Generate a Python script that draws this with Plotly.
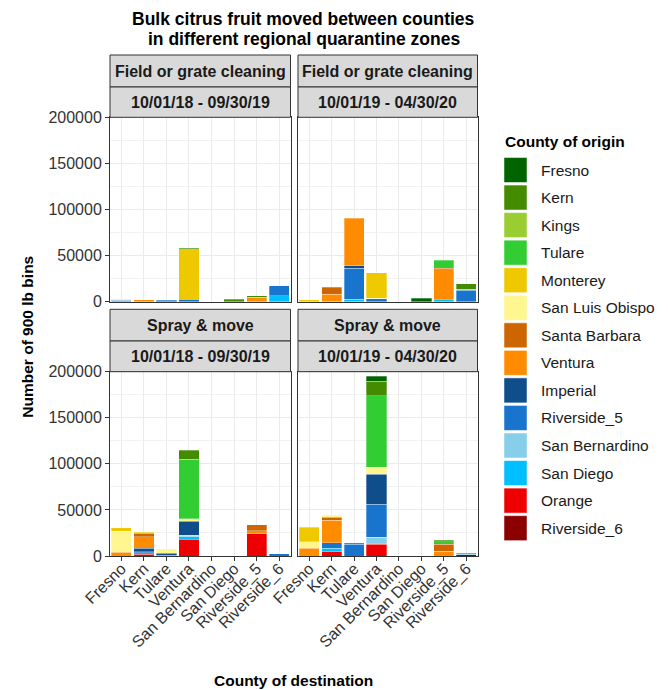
import plotly.graph_objects as go

# Destination counties (x categories)
destinations = ["Fresno", "Kern", "Tulare", "Ventura", "San Bernardino",
                "San Diego", "Riverside_5", "Riverside_6"]

# Origin counties, in legend order (first level sits on top of each stack)
origins = ["Fresno", "Kern", "Kings", "Tulare", "Monterey", "San Luis Obispo",
           "Santa Barbara", "Ventura", "Imperial", "Riverside_5",
           "San Bernardino", "San Diego", "Orange", "Riverside_6"]

origin_colors = ["#006400", "#458B00", "#9ACD32", "#32CD32", "#EEC900", "#FFF68F",
                 "#CD6600", "#FF8C00", "#104E8B", "#1874CD", "#87CEEB", "#00BFFF",
                 "#EE0000", "#8B0000"]

# Bins moved, by origin, over the destinations above
field_1819 = {
    "Kern":            [0, 0, 0, 1200, 0, 2500, 1700, 0],
    "Monterey":        [0, 0, 0, 54500, 0, 0, 0, 0],
    "San Luis Obispo": [1500, 0, 0, 0, 0, 0, 0, 0],
    "Ventura":         [0, 2000, 0, 0, 0, 0, 4800, 0],
    "Imperial":        [0, 0, 0, 800, 0, 0, 0, 0],
    "Riverside_5":     [1000, 300, 1500, 2000, 0, 0, 0, 11000],
    "San Diego":       [800, 0, 0, 0, 0, 0, 0, 6500],
}

field_1920 = {
    "Fresno":          [0, 0, 0, 0, 0, 3700, 0, 0],
    "Kern":            [0, 0, 0, 0, 0, 0, 0, 5800],
    "Tulare":          [0, 0, 0, 0, 0, 0, 9000, 0],
    "Monterey":        [2000, 0, 0, 27500, 0, 0, 0, 0],
    "San Luis Obispo": [0, 0, 0, 500, 0, 0, 0, 0],
    "Santa Barbara":   [0, 7600, 0, 0, 0, 0, 1400, 0],
    "Ventura":         [0, 8000, 51700, 0, 0, 0, 32500, 1100],
    "Imperial":        [0, 0, 2500, 0, 0, 0, 0, 0],
    "Riverside_5":     [0, 0, 34000, 3300, 0, 0, 0, 12600],
    "San Diego":       [0, 0, 2500, 0, 0, 0, 2200, 0],
}

spray_1819 = {
    "Kern":            [0, 0, 0, 9800, 0, 0, 0, 0],
    "Tulare":          [0, 0, 0, 64700, 0, 0, 0, 0],
    "Monterey":        [3300, 1100, 0, 0, 0, 0, 0, 0],
    "San Luis Obispo": [22800, 0, 5100, 2500, 0, 0, 0, 0],
    "Santa Barbara":   [0, 3600, 0, 0, 0, 0, 6900, 0],
    "Ventura":         [4300, 12700, 0, 0, 0, 0, 3300, 0],
    "Imperial":        [0, 3600, 2200, 15200, 0, 0, 0, 0],
    "Riverside_5":     [0, 1100, 700, 0, 0, 0, 0, 2200],
    "San Bernardino":  [0, 0, 0, 1800, 0, 0, 0, 0],
    "San Diego":       [0, 1800, 0, 2500, 0, 0, 0, 0],
    "Orange":          [0, 1800, 0, 18400, 0, 0, 23900, 0],
}

spray_1920 = {
    "Fresno":          [0, 0, 0, 5400, 0, 0, 0, 0],
    "Kern":            [0, 0, 0, 15900, 0, 0, 1800, 0],
    "Tulare":          [0, 0, 0, 77800, 0, 0, 2500, 0],
    "Monterey":        [15900, 0, 0, 0, 0, 0, 0, 0],
    "San Luis Obispo": [7200, 2200, 0, 7600, 0, 0, 0, 0],
    "Santa Barbara":   [0, 2900, 0, 0, 0, 0, 7600, 0],
    "Ventura":         [8300, 24600, 0, 0, 0, 0, 5400, 0],
    "Imperial":        [0, 0, 1100, 32600, 0, 0, 0, 800],
    "Riverside_5":     [0, 6100, 12700, 35800, 0, 0, 0, 0],
    "San Bernardino":  [0, 0, 0, 6500, 0, 0, 0, 1000],
    "San Diego":       [0, 3600, 0, 700, 0, 0, 0, 0],
    "Orange":          [0, 4700, 0, 13000, 0, 0, 0, 0],
    "Riverside_6":     [0, 0, 0, 0, 0, 0, 0, 1200],
}

treatments = ["Field or grate cleaning", "Field or grate cleaning",
              "Spray & move", "Spray & move"]
periods = ["10/01/18 - 09/30/19", "10/01/19 - 04/30/20",
           "10/01/18 - 09/30/19", "10/01/19 - 04/30/20"]
panel_data = [field_1819, field_1920, spray_1819, spray_1920]

y_ticks = [0, 50000, 100000, 150000, 200000]

W, H = 668, 690
FONT = "Liberation Sans, Arial, sans-serif"


def px(x):
    return x / W


def py(y):
    return 1 - y / H


# panel boxes in pixels: (left, right, top, bottom)
col_x = [(110, 290.5), (298, 477.5)]
row_y = [(117.3, 301.7), (371.7, 556)]
strip_rows = [(55, 87, 117.3), (309.3, 341, 371.7)]

fig = go.Figure()
color_of = dict(zip(origins, origin_colors))

for i, data in enumerate(panel_data):
    ax = "" if i == 0 else str(i + 1)
    # bottom of the stack is the last origin level
    for org in reversed(origins):
        if org not in data:
            continue
        vals = [v if v else None for v in data[org]]
        fig.add_trace(go.Bar(
            x=destinations, y=vals, name=org,
            marker=dict(color=color_of[org],
                        line=dict(color="rgba(255,255,255,0.6)", width=0.5)),
            xaxis="x" + ax, yaxis="y" + ax, showlegend=False,
        ))

layout_axes = {}
for i in range(4):
    r, c = divmod(i, 2)
    ax = "" if i == 0 else str(i + 1)
    x0, x1 = col_x[c]
    yt, yb = row_y[r]
    layout_axes["xaxis" + ax] = dict(
        domain=[px(x0), px(x1)], anchor="y" + ax, automargin=False,
        type="category", categoryorder="array", categoryarray=destinations,
        range=[-0.5, 7.5], showgrid=True, gridcolor="#EBEBEB", gridwidth=1,
        showline=True, linecolor="#333333", linewidth=1, mirror=True,
        ticks="outside" if r == 1 else "", ticklen=4, tickcolor="#333333",
        showticklabels=(r == 1), tickangle=-45, ticklabelstandoff=-8,
        tickfont=dict(family=FONT, size=16, color="#333333"),
        zeroline=False, fixedrange=True,
    )
    layout_axes["yaxis" + ax] = dict(
        domain=[py(yb), py(yt)], anchor="x" + ax, automargin=False,
        range=[0, 200000], tickvals=y_ticks,
        ticktext=[str(v) for v in y_ticks],
        showgrid=True, gridcolor="#EBEBEB", gridwidth=1,
        minor=dict(dtick=25000, tick0=0, showgrid=True,
                   gridcolor="#F2F2F2", gridwidth=0.6),
        showline=True, linecolor="#333333", linewidth=1, mirror=True,
        ticks="outside" if c == 0 else "", ticklen=4, tickcolor="#333333",
        showticklabels=(c == 0),
        tickfont=dict(family=FONT, size=16, color="#333333"),
        zeroline=False, fixedrange=True,
    )

shapes = []
annotations = []

# facet strips
for i in range(4):
    r, c = divmod(i, 2)
    x0, x1 = col_x[c]
    s0, s1, s2 = strip_rows[r]
    for (top, bot, label) in [(s0, s1, treatments[i]), (s1, s2, periods[i])]:
        shapes.append(dict(type="rect", xref="paper", yref="paper",
                           x0=px(x0), x1=px(x1), y0=py(bot), y1=py(top),
                           fillcolor="#D9D9D9",
                           line=dict(color="#333333", width=1)))
        annotations.append(dict(xref="paper", yref="paper",
                                x=px((x0 + x1) / 2), y=py((top + bot) / 2),
                                text="<b>" + label + "</b>", showarrow=False,
                                xanchor="center", yanchor="middle",
                                font=dict(family=FONT, size=16, color="#1A1A1A")))

# title lines
for text, yc in [("Bulk citrus fruit moved between counties", 18.5),
                 ("in different regional quarantine zones", 39)]:
    annotations.append(dict(xref="paper", yref="paper", x=px(303.5), y=py(yc),
                            text="<b>" + text + "</b>", showarrow=False,
                            xanchor="center", yanchor="middle",
                            font=dict(family=FONT, size=17.5, color="black")))

# axis titles
annotations.append(dict(xref="paper", yref="paper", x=px(293.7), y=py(680),
                        text="<b>County of destination</b>", showarrow=False,
                        xanchor="center", yanchor="middle",
                        font=dict(family=FONT, size=15.5, color="black")))
annotations.append(dict(xref="paper", yref="paper", x=px(28), y=py(336.7),
                        text="<b>Number of 900 lb bins</b>", showarrow=False,
                        textangle=-90, xanchor="center", yanchor="middle",
                        font=dict(family=FONT, size=15.5, color="black")))

# legend
annotations.append(dict(xref="paper", yref="paper", x=px(503), y=py(141.5),
                        text="<b>County of origin</b>", showarrow=False,
                        xanchor="left", yanchor="middle",
                        font=dict(family=FONT, size=15.5, color="black")))
for k, (org, col) in enumerate(zip(origins, origin_colors)):
    yc = 170 + k * 27.55
    shapes.append(dict(type="rect", xref="paper", yref="paper",
                       x0=px(504), x1=px(527), y0=py(yc + 12.5), y1=py(yc - 12.5),
                       fillcolor=col, line=dict(color="white", width=0.5)))
    annotations.append(dict(xref="paper", yref="paper", x=px(538.5), y=py(yc),
                            text=org, showarrow=False,
                            xanchor="left", yanchor="middle",
                            font=dict(family=FONT, size=15.5, color="#1A1A1A")))

fig.update_layout(
    width=W, height=H,
    margin=dict(l=0, r=0, t=0, b=0, autoexpand=False),
    paper_bgcolor="white", plot_bgcolor="white",
    barmode="stack", bargap=0.1,
    shapes=shapes, annotations=annotations,
    showlegend=False,
    font=dict(family=FONT),
    **layout_axes,
)

fig.write_html("out.html")
